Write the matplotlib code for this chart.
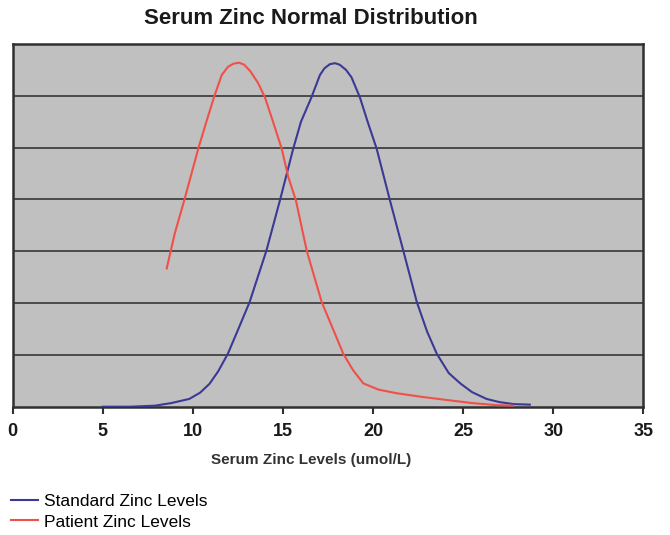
"""Serum zinc normal distribution: standard vs patient levels."""

import matplotlib

matplotlib.use("Agg")
import matplotlib.pyplot as plt

plt.rcParams["font.family"] = ["Liberation Sans", "DejaVu Sans"]

# Standard zinc levels curve
std_x = [5.0, 6.5, 7.9, 8.8, 9.8, 10.4, 10.92, 11.4, 11.94, 12.5, 13.15, 13.6,
         14.08, 14.83, 15.57, 16.0, 16.58, 17.05, 17.3, 17.6, 17.89, 18.15,
         18.5, 18.8, 19.27, 19.7, 20.2, 20.94, 21.68, 22.43, 23.0, 23.54, 24.2,
         24.84, 25.5, 26.3, 27.0, 27.8, 28.7]
std_y = [0.0, 0.0, 0.02, 0.07, 0.15, 0.27, 0.44, 0.68, 1.02, 1.48, 2.02, 2.5,
         3.01, 3.98, 4.98, 5.5, 5.97, 6.4, 6.53, 6.61, 6.63, 6.6,
         6.5, 6.36, 5.97, 5.5, 4.98, 3.98, 3.01, 2.02, 1.45, 1.02, 0.65,
         0.45, 0.28, 0.15, 0.09, 0.05, 0.04]

# Patient zinc levels curve
pat_x = [8.55, 9.0, 9.52, 10.3, 10.75, 11.17, 11.6, 11.95, 12.25, 12.56, 12.85,
         13.2, 13.63, 14.0, 14.45, 14.93, 15.29, 15.72, 16.32, 17.15, 17.8,
         18.35, 18.9, 19.46, 20.3, 21.31, 22.7, 24.08, 25.5, 26.86, 27.76]
pat_y = [2.67, 3.35, 3.98, 4.98, 5.5, 5.97, 6.4, 6.56, 6.62, 6.64, 6.6,
         6.47, 6.24, 5.97, 5.5, 4.98, 4.44, 3.98, 3.01, 2.02, 1.48,
         1.02, 0.7, 0.45, 0.33, 0.26, 0.19, 0.13, 0.07, 0.03, 0.02]

x_ticks = [0, 5, 10, 15, 20, 25, 30, 35]
grid_levels = [1, 2, 3, 4, 5, 6]

BLUE = "#3a3a94"
RED = "#f0504a"

fig = plt.figure(figsize=(6.7, 5.35), dpi=100)
ax = fig.add_axes([12.7 / 670, 1 - 406.7 / 535, (643.3 - 12.7) / 670, (406.7 - 44) / 535])
ax.set_facecolor("#c0c0c0")

for level in grid_levels:
    ax.axhline(level, color="#4a4a4a", linewidth=1.4, zorder=1)

line_std, = ax.plot(std_x, std_y, color=BLUE, linewidth=1.5, zorder=3)
line_pat, = ax.plot(pat_x, pat_y, color=RED, linewidth=1.5, zorder=3)

ax.set_xlim(0, 35)
ax.set_ylim(0, 7)
ax.set_xticks(x_ticks)
ax.set_yticks([])
ax.tick_params(axis="x", direction="out", length=5, width=1.5, color="#303030",
               labelsize=13, pad=7)
for lbl in ax.get_xticklabels():
    lbl.set_fontweight("bold")
    lbl.set_color("#1a1a1a")
for spine in ax.spines.values():
    spine.set_color("#303030")
    spine.set_linewidth(1.8)

fig.text(311 / 670, 1 - 19 / 535, "Serum Zinc Normal Distribution", ha="center",
         va="center", fontsize=16, fontweight="bold", color="#1a1a1a")
fig.text(311 / 670, 1 - 460 / 535, "Serum Zinc Levels (umol/L)", ha="center",
         va="center", fontsize=11, fontweight="bold", color="#333333")

fig.legend([line_std, line_pat], ["Standard Zinc Levels", "Patient Zinc Levels"],
           loc="upper left", bbox_to_anchor=(11 / 670, 1 - 494 / 535),
           frameon=False, fontsize=12.5, handlelength=1.55, handletextpad=0.35,
           labelspacing=0.3, borderpad=0, borderaxespad=0)

fig.savefig("out.png", dpi=100, facecolor="white")
